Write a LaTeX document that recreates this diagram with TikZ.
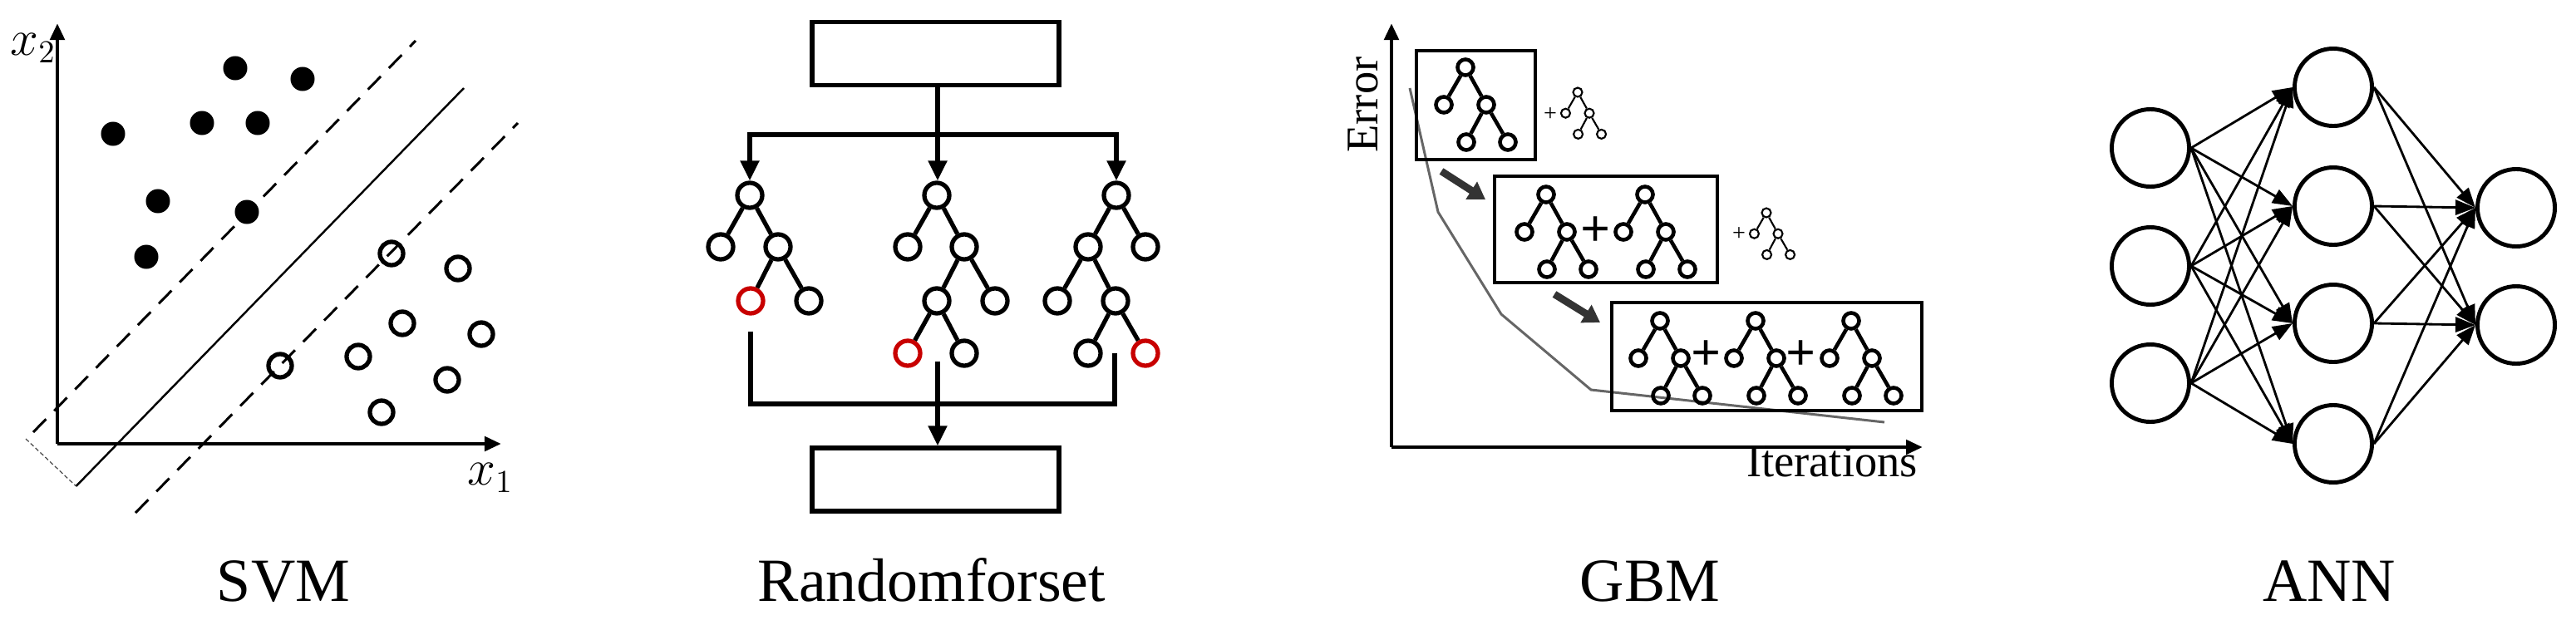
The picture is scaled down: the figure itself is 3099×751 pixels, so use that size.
\documentclass[tikz,border=0pt]{standalone}
\usepackage{fontspec}
\setmainfont{Liberation Serif}
\usetikzlibrary{arrows.meta}
\definecolor{rfredc}{RGB}{200,0,0}
\newcommand{\gbtree}[6]{%
  \begin{scope}[shift={(#2,#3)},scale=#4]
    \node[#5] (#1r) at (0,0) {};
    \node[#5] (#1a) at (-26,45) {};
    \node[#5] (#1b) at (25,45) {};
    \node[#5] (#1c) at (1,90) {};
    \node[#5] (#1d) at (51,90) {};
    \draw[#6] (#1r) -- (#1a);
    \draw[#6] (#1r) -- (#1b);
    \draw[#6] (#1b) -- (#1c);
    \draw[#6] (#1b) -- (#1d);
  \end{scope}}
\begin{document}
\begin{tikzpicture}[x=0.01cm,y=-0.01cm,
  lbl/.style={anchor=base,inner sep=0,font=\fontsize{21}{25}\selectfont},
  axis/.style={line width=1.4pt,-{Triangle[width=0.17cm,length=0.2cm]}},
  svmdot/.style={circle,fill=black,inner sep=0,minimum size=0.29cm},
  svmring/.style={circle,draw=black,line width=1.5pt,inner sep=0,minimum size=0.28cm},
  svmdash/.style={line width=0.85pt,dash pattern=on 0.22cm off 0.14cm},
  rfnode/.style={circle,draw=black,line width=1.5pt,inner sep=0,minimum size=0.30cm},
  rfred/.style={rfnode,draw=rfredc},
  rfline/.style={line width=1.5pt},
  rfarrow/.style={rfline,-{Triangle[width=0.22cm,length=0.24cm]}},
  rfbox/.style={draw,line width=1.5pt,minimum width=2.97cm,minimum height=0.76cm,inner sep=0},
  gbox/.style={draw,line width=1.1pt,inner sep=0},
  gnode/.style={circle,draw=black,line width=1.3pt,inner sep=0,minimum size=0.19cm},
  gedge/.style={line width=1.3pt},
  gsmall/.style={circle,draw=black,line width=0.6pt,inner sep=0,minimum size=0.11cm},
  gsedge/.style={line width=0.6pt},
  gplus/.style={inner sep=0,font=\fontsize{18}{20}\selectfont\bfseries},
  gsplus/.style={inner sep=0,font=\fontsize{8}{9}\selectfont},
  fatarrow/.style={black!80,line width=2.5pt,-{Triangle[width=0.24cm,length=0.2cm]}},
  annnode/.style={circle,draw=black,line width=1.4pt,inner sep=0,minimum size=0.93cm},
  annarrow/.style={line width=0.8pt,-{Triangle[width=0.18cm,length=0.24cm]}}
]
\useasboundingbox (0,0) rectangle (3099,751);

% ---------------- SVM ----------------
\coordinate (svmO) at (69,534);
\coordinate (svmY) at (69,28);
\coordinate (svmX) at (603,534);
\draw[axis] (svmO) -- (svmY);
\draw[axis] (svmO) -- (svmX);
\node[inner sep=0,font=\fontsize{16}{18}\selectfont] (svmx2) at (40,58) {$x_2$};
\node[inner sep=0,font=\fontsize{16}{18}\selectfont] (svmx1) at (590,575) {$x_1$};
\coordinate (hs1) at (91.5,585); \coordinate (hs2) at (558,106);
\coordinate (hu1) at (40,520);   \coordinate (hu2) at (500,49);
\coordinate (hl1) at (163,617);  \coordinate (hl2) at (623,148);
\coordinate (hm1) at (31,528);
\draw[line width=0.7pt] (hs1) -- (hs2);
\draw[svmdash] (hu1) -- (hu2);
\draw[svmdash] (hl1) -- (hl2);
\draw[line width=0.35pt,black!70,dash pattern=on 0.05cm off 0.03cm] (hm1) -- (hs1);
\foreach \p [count=\k] in {(283,82),(364,95),(136,161),(243,148),(310,148),(190,242),(297,255),(176,309)}
  \node[svmdot] (sd\k) at \p {};
\foreach \p [count=\k] in {(471,305),(551,323),(484,389),(579,402),(431,429),(337,440),(538,457),(459,496)}
  \node[svmring] (sr\k) at \p {};
\node[lbl] (lsvm) at (341,723) {SVM};

% ---------------- Random forest ----------------
\node[rfbox] (rftop) at (1125.5,64.5) {};
\node[rfbox] (rfbot) at (1125.5,577) {};
% left tree
\node[rfnode] (aR) at (902,235) {};
\node[rfnode] (aL) at (867,297) {};
\node[rfnode] (aB) at (936,297) {};
\node[rfred]  (aBL) at (903,362) {};
\node[rfnode] (aBR) at (973,362) {};
\draw[rfline] (aR) -- (aL); \draw[rfline] (aR) -- (aB);
\draw[rfline] (aB) -- (aBL); \draw[rfline] (aB) -- (aBR);
% middle tree
\node[rfnode] (bR) at (1127,235) {};
\node[rfnode] (bL) at (1092,297) {};
\node[rfnode] (bB) at (1160,297) {};
\node[rfnode] (bBL) at (1127,362) {};
\node[rfnode] (bBR) at (1197,362) {};
\node[rfred]  (bBLL) at (1092,425) {};
\node[rfnode] (bBLR) at (1160,425) {};
\draw[rfline] (bR) -- (bL); \draw[rfline] (bR) -- (bB);
\draw[rfline] (bB) -- (bBL); \draw[rfline] (bB) -- (bBR);
\draw[rfline] (bBL) -- (bBLL); \draw[rfline] (bBL) -- (bBLR);
% right tree
\node[rfnode] (cR) at (1343,235) {};
\node[rfnode] (cL) at (1309,297) {};
\node[rfnode] (cB) at (1378,297) {};
\node[rfnode] (cLL) at (1272,362) {};
\node[rfnode] (cLR) at (1342,362) {};
\node[rfnode] (cLRL) at (1309,425) {};
\node[rfred]  (cLRR) at (1378,425) {};
\draw[rfline] (cR) -- (cL); \draw[rfline] (cR) -- (cB);
\draw[rfline] (cL) -- (cLL); \draw[rfline] (cL) -- (cLR);
\draw[rfline] (cLR) -- (cLRL); \draw[rfline] (cLR) -- (cLRR);
% connectors
\coordinate (rfsplit) at (1128,162);
\draw[rfline] (rftop.south -| rfsplit) -- (rfsplit);
\draw[rfarrow] (rfsplit) -| (aR);
\draw[rfarrow] (rfsplit) -| (cR);
\draw[rfarrow] (rfsplit) -- (rfsplit |- bR.north);
\coordinate (rfb1) at (903,399);
\coordinate (rfb2) at (1128,435);
\coordinate (rfb3) at (1341,425);
\coordinate (rfjoin) at (1128,486);
\draw[rfline] (rfb1) |- (rfjoin) -| (rfb3);
\draw[rfarrow] (rfb2) -- (rfb2 |- rfbot.north);
\node[lbl] (lrf) at (1121,723) {Randomforset};

% ---------------- GBM ----------------
\draw[black!60,line width=0.85pt] (1696,106) -- (1730,255) -- (1806,378) -- (1914,469) -- (2267,508);
\coordinate (gO) at (1674,538);
\coordinate (gY) at (1674,28);
\coordinate (gX) at (2313,538);
\draw[axis] (gO) -- (gY);
\draw[axis] (gO) -- (gX);
\node[rotate=90,inner sep=0,font=\fontsize{15.5}{18}\selectfont] (gerr) at (1640,126) {Error};
\node[anchor=base,inner sep=0,font=\fontsize{15.5}{18}\selectfont] (giter) at (2204,573) {Iterations};
\node[gbox,minimum width=1.43cm,minimum height=1.31cm] (gb1) at (1775.5,126.5) {};
\node[gbox,minimum width=2.68cm,minimum height=1.28cm] (gb2) at (1932,276) {};
\node[gbox,minimum width=3.73cm,minimum height=1.30cm] (gb3) at (2125.5,429) {};
\gbtree{ga}{1763}{81}{1}{gnode}{gedge}
\gbtree{gb}{1860}{234}{1}{gnode}{gedge}
\gbtree{gc}{1979}{234}{1}{gnode}{gedge}
\gbtree{gd}{1997}{386}{1}{gnode}{gedge}
\gbtree{ge}{2112}{386}{1}{gnode}{gedge}
\gbtree{gf}{2227}{386}{1}{gnode}{gedge}
\node[gplus] (gp1) at (1920,279) {+};
\node[gplus] (gp2) at (2053,428) {+};
\node[gplus] (gp3) at (2167,428) {+};
\gbtree{gs}{1898}{111}{0.56}{gsmall}{gsedge}
\gbtree{gt}{2125}{256}{0.56}{gsmall}{gsedge}
\node[gsplus] (gsp1) at (1865,138) {+};
\node[gsplus] (gsp2) at (2092,282) {+};
\coordinate (gf1a) at (1734,206); \coordinate (gf1b) at (1787,240);
\coordinate (gf2a) at (1870,354); \coordinate (gf2b) at (1925,388);
\draw[fatarrow] (gf1a) -- (gf1b);
\draw[fatarrow] (gf2a) -- (gf2b);
\node[lbl] (lgbm) at (1985,723) {GBM};

% ---------------- ANN ----------------
\node[annnode] (ni1) at (2587,178) {};
\node[annnode] (ni2) at (2587,320) {};
\node[annnode] (ni3) at (2587,461) {};
\node[annnode] (nh1) at (2807,105) {};
\node[annnode] (nh2) at (2807,248) {};
\node[annnode] (nh3) at (2807,389) {};
\node[annnode] (nh4) at (2807,534) {};
\node[annnode] (no1) at (3027,250) {};
\node[annnode] (no2) at (3027,391) {};
\foreach \i in {1,2,3} \foreach \j in {1,2,3,4}
  \draw[annarrow] (ni\i.east) -- (nh\j.west);
\foreach \j in {1,2,3,4} \foreach \k in {1,2}
  \draw[annarrow] (nh\j.east) -- (no\k.west);
\node[lbl] (lann) at (2802,723) {ANN};
\end{tikzpicture}
\end{document}
